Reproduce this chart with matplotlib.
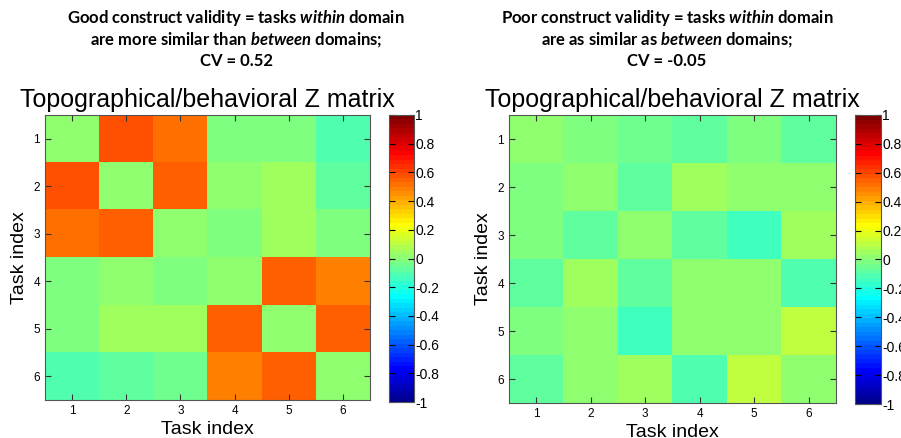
import numpy as np
import matplotlib.pyplot as plt
from matplotlib.colors import ListedColormap

plt.rcParams['font.family'] = ['Liberation Sans', 'DejaVu Sans']
plt.rcParams['mathtext.fontset'] = 'custom'
plt.rcParams['mathtext.bfit'] = 'Lato:bold:italic'
plt.rcParams['mathtext.rm'] = 'Lato:bold'

# Task indices
tasks = [1, 2, 3, 4, 5, 6]
cbar_ticks = [-1, -0.8, -0.6, -0.4, -0.2, 0, 0.2, 0.4, 0.6, 0.8, 1]

# Good construct validity matrix (CV = 0.52)
good_z = np.array([
    [0.03, 0.58, 0.52, -0.015, -0.015, -0.11],
    [0.58, 0.03, 0.55, 0.02, 0.06, -0.08],
    [0.52, 0.55, 0.03, -0.015, 0.06, -0.03],
    [-0.015, 0.03, -0.03, 0.03, 0.55, 0.48],
    [-0.015, 0.06, 0.06, 0.55, 0.03, 0.55],
    [-0.11, -0.08, -0.04, 0.48, 0.55, 0.03],
])

# Poor construct validity matrix (CV = -0.05)
poor_z = np.array([
    [0.03, -0.015, -0.04, -0.07, -0.015, -0.07],
    [-0.015, 0.03, -0.07, 0.06, 0.03, 0.03],
    [-0.03, -0.07, 0.03, -0.07, -0.14, 0.06],
    [-0.07, 0.06, -0.07, 0.03, 0.03, -0.10],
    [-0.015, 0.03, -0.14, 0.03, 0.03, 0.11],
    [-0.07, 0.03, 0.06, -0.10, 0.11, 0.03],
])

headers = [
    ['Good construct validity = tasks $\\mathbfit{within}$ domain',
     'are more similar than $\\mathbfit{between}$ domains;',
     'CV = 0.52'],
    ['Poor construct validity = tasks $\\mathbfit{within}$ domain',
     'are as similar as $\\mathbfit{between}$ domains;',
     'CV = -0.05'],
]


# MATLAB-style jet(64)
def matlab_jet(m=64):
    n = int(np.ceil(m / 4))
    u = np.concatenate([np.arange(1, n + 1) / n, np.ones(n - 1),
                        np.arange(n, 0, -1) / n])
    g = int(np.ceil(n / 2)) - (1 if m % 4 == 1 else 0) + np.arange(1, len(u) + 1)
    r = g + n
    b = g - n
    J = np.zeros((m, 3))
    for ch, idx in enumerate([r, g, b]):
        ok = (idx >= 1) & (idx <= m)
        J[idx[ok] - 1, ch] = u[ok]
    return ListedColormap(J)


jet = matlab_jet()

W, H = 901, 438
fig = plt.figure(figsize=(W / 100, H / 100), dpi=100)


def px(x0, y0, x1, y1):
    return [x0 / W, 1 - y1 / H, (x1 - x0) / W, (y1 - y0) / H]


panels = [
    (good_z, px(45, 115, 370, 400), px(389, 115, 414, 402), 236),
    (poor_z, px(509, 115, 836, 403), px(855, 115, 881, 404), 667),
]

for (data, ax_rect, cb_rect, hx), header in zip(panels, headers):
    ax = fig.add_axes(ax_rect)
    im = ax.imshow(data, cmap=jet, vmin=-1, vmax=1, aspect='auto',
                   interpolation='nearest', extent=[0.5, 6.5, 6.5, 0.5])
    ax.set_xticks(tasks)
    ax.set_yticks(tasks)
    ax.tick_params(direction='in', top=True, right=True, labelsize=8.5,
                   length=4, color='#333333')
    for s in ax.spines.values():
        s.set_color('#555555')
    ax.set_xlabel('Task index', fontsize=14, labelpad=3)
    ax.set_ylabel('Task index', fontsize=14, labelpad=4)
    ax.set_title('Topographical/behavioral Z matrix', fontsize=18, pad=6)

    cax = fig.add_axes(cb_rect)
    cb = fig.colorbar(im, cax=cax, ticks=cbar_ticks)
    cb.ax.set_yticklabels(['%g' % t for t in cbar_ticks])
    cb.ax.tick_params(direction='in', left=True, right=True, labelsize=10,
                      length=4, pad=1)
    cb.outline.set_edgecolor('#555555')

    for i, line in enumerate(header):
        fig.text(hx / W, 1 - (18 + 21.5 * i) / H, line, ha='center',
                 va='center', fontsize=12, fontweight='bold', family='Lato')

fig.savefig('out.png', dpi=100)
